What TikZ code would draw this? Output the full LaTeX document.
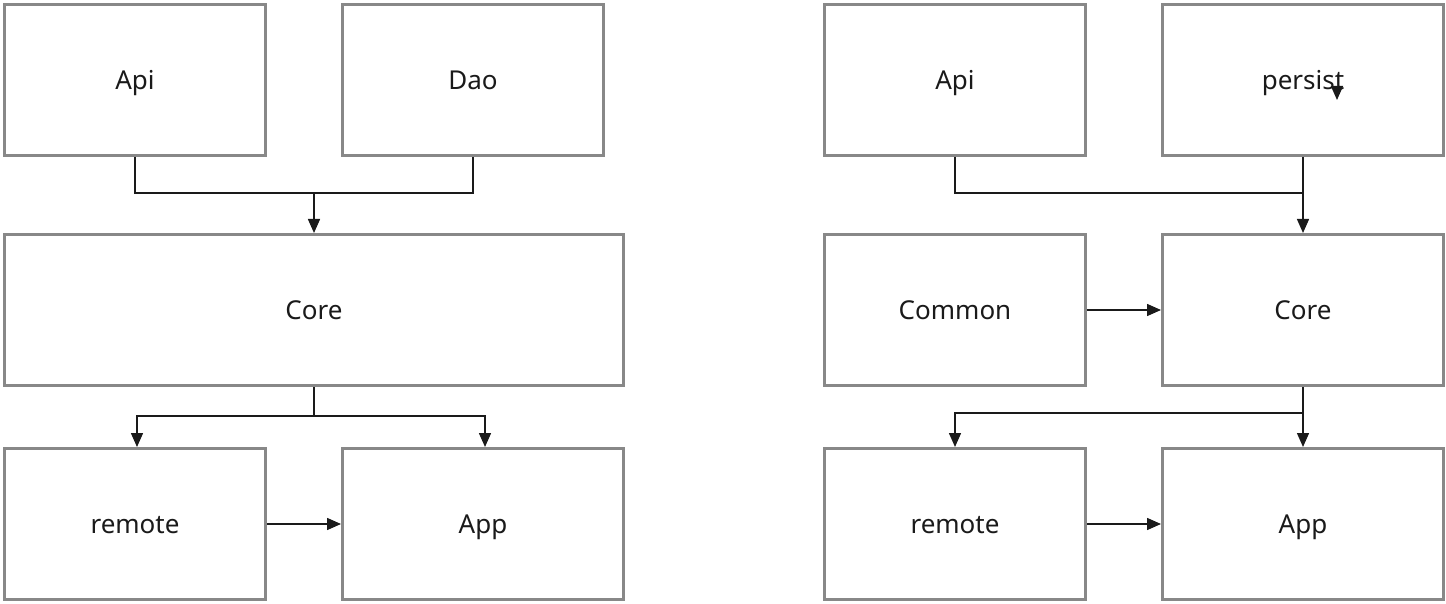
\documentclass[tikz,border=0pt]{standalone}
\usepackage{fontspec}
\setmainfont{Noto Sans}
\usetikzlibrary{arrows.meta}

\definecolor{boxgray}{HTML}{888888}
\definecolor{inkdark}{HTML}{1A1A1A}

\begin{document}
\begin{tikzpicture}[x=1pt,y=-1pt,
    arr/.style={-{Triangle[length=14pt,width=12pt]}}]

      \useasboundingbox (0,0) rectangle (1446,604);

      % Nodes
      \begin{scope}[every node/.style={rectangle,draw=boxgray,line width=3pt,
          text=inkdark,font=\fontsize{26}{30}\selectfont,
          text height=22pt,text depth=3pt,
          minimum width=261pt,minimum height=151pt,inner sep=0pt}]
        \node (lapi) at (135,80) {Api};
        \node (ldao) at (473,80) {Dao};
        \node[minimum width=619pt] (lcore) at (314,310) {Core};
        \node (lremote) at (135,524) {remote};
        \node[minimum width=281pt] (lapp) at (483,524) {App};

        \node (rapi) at (955,80) {Api};
        \node[minimum width=281pt] (rpersist) at (1303,80) {persist};
        \node (rcommon) at (955,310) {Common};
        \node[minimum width=281pt] (rcore) at (1303,310) {Core};
        \node (rremote) at (955,524) {remote};
        \node[minimum width=281pt] (rapp) at (1303,524) {App};
      \end{scope}

      % Edges
      \begin{scope}[line width=1.5pt,draw=inkdark]
        \draw (lapi.south) -- ++(0,36) -| (ldao.south);
        \coordinate (ljoin) at (lcore.north |- 0,193);
        \draw[arr] (ljoin) -- (lcore.north);
        \draw[arr] (lcore.south) -- ++(0,29) -| ([xshift=2pt]lremote.north);
        \draw[arr] (lcore.south) -- ++(0,29) -| ([xshift=2pt]lapp.north);
        \draw[arr] (lremote.east) -- (lapp.west);

        \draw (rapi.south) -- ++(0,36) -| (rpersist.south);
        \draw[arr] (rpersist.south) -- (rcore.north);
        \draw[arr] (rcommon.east) -- (rcore.west);
        \draw[arr] (rcore.south) -- (rapp.north);
        \draw[arr] (rcore.south) -- ++(0,26) -| (rremote.north);
        \draw[arr] (rremote.east) -- (rapp.west);

        \coordinate (stray) at (1337,86);
        \draw[arr] (stray) -- ++(0,14);
      \end{scope}

    \end{tikzpicture}
\end{document}
